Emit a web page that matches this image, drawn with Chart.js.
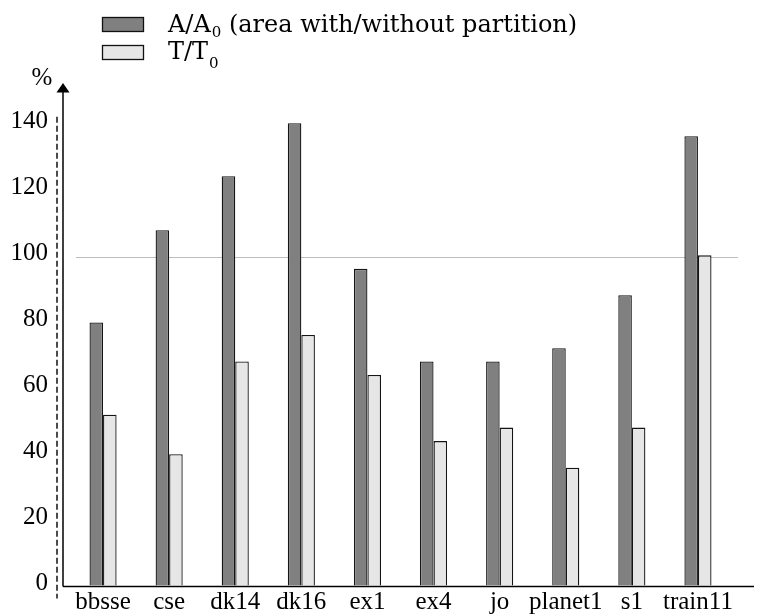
<!DOCTYPE html>
<html><head><meta charset="utf-8">
<script src="https://cdn.jsdelivr.net/npm/chart.js@4"></script>
<style>html,body{margin:0;padding:0;background:#fff}</style>
</head><body>
<canvas id="c" width="766" height="615"></canvas>
<script>
const categories = ['bbsse','cse','dk14','dk16','ex1','ex4','jo','planet1','s1','train11'];
const areaRatio = [80, 108, 124.4, 140.5, 96.3, 68.2, 68.2, 72.2, 88.3, 136.6];
const timeRatio = [52, 40, 68.2, 76.2, 64.1, 44, 48.1, 35.9, 48.1, 100.4];
const seriesNames = ['A/A₀ (area with/without partition)', 'T/T₀'];
const yTicks = [0, 20, 40, 60, 80, 100, 120, 140];
const yMax = 150;
const refLine = 100;
const yUnit = '%';

const SERIF = '"Liberation Serif", "Times New Roman", serif';
const LEGSERIF = '"DejaVu Serif", serif';

const decor = {
  id: 'decor',
  beforeDatasetsDraw(chart) {
    const { ctx, chartArea: a, scales: { y } } = chart;
    const yy = Math.round(y.getPixelForValue(refLine)) + 0.5;
    ctx.save();
    ctx.strokeStyle = '#bdbdbd'; ctx.lineWidth = 1.2;
    ctx.beginPath(); ctx.moveTo(a.left + 6, yy); ctx.lineTo(a.right + 7, yy); ctx.stroke();
    ctx.restore();
  },
  afterDatasetsDraw(chart) {
    const { ctx, chartArea: a, scales: { y } } = chart;
    const ax = a.left - 7;
    const bottom = Math.round(y.getPixelForValue(0)) + 0.5;
    ctx.save();
    ctx.strokeStyle = '#000'; ctx.fillStyle = '#000'; ctx.lineWidth = 1.5;
    // x axis
    ctx.beginPath(); ctx.moveTo(ax, bottom); ctx.lineTo(a.right + 23, bottom); ctx.stroke();
    // y axis with arrow
    const top = y.getPixelForValue(yMax);
    ctx.beginPath(); ctx.moveTo(ax, bottom); ctx.lineTo(ax, top); ctx.stroke();
    ctx.beginPath(); ctx.moveTo(ax, top - 9); ctx.lineTo(ax - 6.5, top + 0.5); ctx.lineTo(ax + 6.5, top + 0.5); ctx.closePath(); ctx.fill();
    // unit
    ctx.font = '25px ' + SERIF; ctx.textAlign = 'center'; ctx.textBaseline = 'middle';
    ctx.fillText(yUnit, ax - 21, top - 14);
    // dashed line
    ctx.setLineDash([6, 3]); ctx.lineWidth = 1.4;
    ctx.beginPath(); ctx.moveTo(ax - 6, y.getPixelForValue(142.5)); ctx.lineTo(ax - 6, bottom + 12); ctx.stroke();
    ctx.setLineDash([]);
    // legend
    const boxX = 102, boxW = 41, boxH = 14, textX = 168;
    const rows = [{ boxY: 17, base: 32, sub: 5 }, { boxY: 45, base: 59, sub: 9 }];
    chart.data.datasets.forEach((ds, i) => {
      const r = rows[i];
      ctx.fillStyle = ds.backgroundColor; ctx.strokeStyle = '#111'; ctx.lineWidth = 1.3;
      ctx.fillRect(boxX, r.boxY, boxW, boxH);
      ctx.strokeRect(boxX + 0.5, r.boxY + 0.5, boxW, boxH);
      ctx.fillStyle = '#000'; ctx.textAlign = 'left'; ctx.textBaseline = 'alphabetic';
      const parts = ds.label.split('₀');
      let x = textX;
      ctx.font = '24px ' + LEGSERIF;
      ctx.fillText(parts[0], x, r.base); x += ctx.measureText(parts[0]).width + 1;
      if (parts.length > 1) {
        ctx.font = '15px ' + LEGSERIF;
        ctx.fillText('0', x, r.base + r.sub); x += ctx.measureText('0').width;
        ctx.font = '24px ' + LEGSERIF;
        ctx.fillText(parts[1], x, r.base);
      }
    });
    ctx.restore();
  }
};

new Chart(document.getElementById('c'), {
  type: 'bar',
  data: {
    labels: categories,
    datasets: [
      { label: seriesNames[0], data: areaRatio, backgroundColor: '#808080', borderColor: '#151515', borderWidth: 1.3 },
      { label: seriesNames[1], data: timeRatio, backgroundColor: '#e6e6e6', borderColor: '#151515', borderWidth: 1.3 }
    ]
  },
  options: {
    responsive: false,
    animation: false,
    layout: { padding: { top: 92, right: 35, left: 0, bottom: 0 } },
    plugins: { legend: { display: false }, tooltip: { enabled: false } },
    datasets: { bar: { categoryPercentage: 0.41, barPercentage: 1 } },
    scales: {
      x: {
        grid: { display: false, drawTicks: false },
        border: { display: false },
        ticks: { color: '#000', font: { family: SERIF, size: 25 }, padding: 1, maxRotation: 0, autoSkip: false },
        afterFit: s => { s.height = 29; }
      },
      y: {
        min: 0, max: yMax,
        grid: { display: true, drawOnChartArea: false, drawTicks: true, tickLength: 15, color: 'rgba(0,0,0,0)', tickColor: 'rgba(0,0,0,0)' },
        border: { display: false },
        ticks: { color: '#000', font: { family: SERIF, size: 25 }, padding: 7, labelOffset: -3 },
        afterBuildTicks: s => { s.ticks = yTicks.map(v => ({ value: v })); },
        afterFit: s => { s.width = 70; }
      }
    }
  },
  plugins: [decor]
});
</script>
</body></html>
